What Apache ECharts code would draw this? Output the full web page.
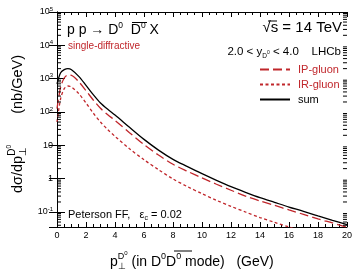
<!DOCTYPE html>
<html>
<head>
<meta charset="utf-8">
<title>pp -> D0 D0bar X single-diffractive</title>
<script src="https://cdn.jsdelivr.net/npm/echarts@6/dist/echarts.min.js"></script>
</head>
<body style="margin: 0">
<div id="main" style="width: 355px; height: 276px"></div>
<script type="text/javascript">
// p_T of the D0 meson (GeV)
var pt = [0, 0.25, 0.5, 0.75, 1, 1.5, 2, 2.5, 3, 3.5, 4, 5, 6, 7, 8, 9, 10, 11, 12, 13, 14, 15, 16, 17, 18, 19, 20];
// dsigma/dpT (nb/GeV)
var ipGluon = [126, 562, 1047, 1290, 1260, 813, 437, 229, 129, 83, 56, 24, 10.5, 5.1, 2.7, 1.66, 1.05, 0.68, 0.45, 0.30, 0.214, 0.158, 0.115, 0.085, 0.062, 0.047, 0.035];
var irGluon = [50, 251, 501, 603, 562, 355, 186, 93, 50, 29.5, 18.6, 7.9, 3.7, 1.86, 0.98, 0.575, 0.355, 0.224, 0.148, 0.100, 0.068, 0.049, 0.0355, 0.026, 0.0195, 0.0145, 0.0107];
var sumAll = [700, 1510, 1860, 2000, 1860, 1175, 630, 331, 186, 120, 81, 34.7, 15.1, 7.2, 3.8, 2.3, 1.41, 0.89, 0.575, 0.39, 0.27, 0.195, 0.141, 0.105, 0.076, 0.056, 0.042];
var seriesNames = ['IP-gluon', 'IR-gluon', 'sum'];

var yMin = 0.0355, yMax = 100000;
var xMin = 0, xMax = 20, xStep = 2;

var FONT = 'Liberation Sans, Arial, Helvetica, sans-serif';
var RED = '#c0262b';

function pairs(arr) {
    var out = [];
    for (var i = 0; i < pt.length; i++) out.push([pt[i], arr[i]]);
    return out;
}

// log minor ticks 2..9 x 10^k
var minorY = [];
for (var e = -2; e <= 4; e++) {
    for (var k = 2; k <= 9; k++) {
        var v = k * Math.pow(10, e);
        if (v > yMin && v < yMax) minorY.push([0, v]);
    }
}

function fmtY(v) {
    var lg = Math.log10(v);
    var e = Math.round(lg);
    if (Math.abs(lg - e) > 1e-6) return '';
    if (e === 0) return '1';
    if (e === 1) return '10';
    return '10{e|' + e + '}';
}

var myChart = echarts.init(document.getElementById('main'), null, {renderer: 'canvas'});

var option = {
    animation: false,
    backgroundColor: '#fff',
    textStyle: {fontFamily: FONT},
    grid: {left: 57, right: 6, top: 12, bottom: 49},
    legend: {
        orient: 'vertical',
        left: 259,
        top: 64,
        padding: 0,
        itemWidth: 30,
        itemHeight: 10,
        itemGap: 4,
        selectedMode: false,
        itemStyle: {opacity: 0},
        textStyle: {fontSize: 11, fontFamily: FONT, color: '#000', padding: [0, 0, 0, 3]},
        data: [
            {name: 'IP-gluon', textStyle: {color: RED}},
            {name: 'IR-gluon', textStyle: {color: RED}},
            {name: 'sum', textStyle: {color: '#000'}}
        ]
    },
    xAxis: [{
        type: 'value',
        min: xMin, max: xMax, interval: xStep,
        axisLine: {lineStyle: {color: '#000', width: 1}},
        axisTick: {inside: true, length: 5, lineStyle: {color: '#000'}},
        minorTick: {show: true, splitNumber: 4, length: 3, lineStyle: {color: '#000'}},
        axisLabel: {fontSize: 9, color: '#000', margin: 4, fontFamily: FONT},
        splitLine: {show: false}
    }, {
        type: 'value', position: 'top',
        min: xMin, max: xMax, interval: xStep,
        axisLine: {lineStyle: {color: '#000', width: 1}},
        axisTick: {inside: true, length: 5, lineStyle: {color: '#000'}},
        minorTick: {show: true, splitNumber: 4, length: 3, lineStyle: {color: '#000'}},
        axisLabel: {show: false},
        splitLine: {show: false}
    }],
    yAxis: [{
        type: 'log',
        min: yMin, max: yMax,
        axisLine: {show: true, lineStyle: {color: '#000', width: 1}},
        axisTick: {inside: true, length: 8, lineStyle: {color: '#000'}},
        axisLabel: {
            fontSize: 9, color: '#000', margin: 4, fontFamily: FONT,
            formatter: fmtY,
            rich: {e: {fontSize: 6, padding: [0, 0, 6, 0], fontFamily: FONT, color: '#000'}}
        },
        splitLine: {show: false}
    }, {
        type: 'log', position: 'right',
        min: yMin, max: yMax,
        axisLine: {show: true, lineStyle: {color: '#000', width: 1}},
        axisTick: {inside: true, length: 8, lineStyle: {color: '#000'}},
        axisLabel: {show: false},
        splitLine: {show: false}
    }],
    series: [{
        name: 'IP-gluon', type: 'line', data: pairs(ipGluon),
        symbol: 'none', smooth: 0.3, clip: true, z: 3,
        itemStyle: {color: RED},
        lineStyle: {color: RED, width: 1.3, type: [9, 4]}
    }, {
        name: 'IR-gluon', type: 'line', data: pairs(irGluon),
        symbol: 'none', smooth: 0.3, clip: true, z: 3,
        itemStyle: {color: RED},
        lineStyle: {color: RED, width: 1.3, type: [3, 2.5]}
    }, {
        name: 'sum', type: 'line', data: pairs(sumAll),
        symbol: 'none', smooth: 0.3, clip: true, z: 4,
        itemStyle: {color: '#000'},
        lineStyle: {color: '#000', width: 1.3}
    }, {
        // minor log ticks on the left and right frame
        type: 'custom', data: minorY, silent: true, clip: false, z: 5,
        renderItem: function (params, api) {
            var l = api.coord([xMin, api.value(1)]);
            var r = api.coord([xMax, api.value(1)]);
            return {
                type: 'group',
                children: [
                    {type: 'line', shape: {x1: l[0], y1: l[1], x2: l[0] + 4, y2: l[1]}, style: {stroke: '#000', lineWidth: 1}},
                    {type: 'line', shape: {x1: r[0] - 4, y1: r[1], x2: r[0], y2: r[1]}, style: {stroke: '#000', lineWidth: 1}}
                ]
            };
        }
    }],
    graphic: [
        {
            type: 'text', x: 67, y: 30,
            style: {
                text: '{b|p p → D}{s|0}{b|  D}{s|0}{b| X}',
                verticalAlign: 'middle', align: 'left',
                rich: {
                    b: {fontSize: 14, fontFamily: FONT, color: '#000'},
                    s: {fontSize: 8.5, padding: [0, 0, 9, 0], fontFamily: FONT, color: '#000'}
                }
            }
        },
        {type: 'line', shape: {x1: 132, y1: 22.5, x2: 147, y2: 22.5}, style: {stroke: '#000', lineWidth: 1}},
        {
            type: 'text', x: 68, y: 46,
            style: {text: 'single-diffractive', font: '10px ' + FONT, fill: RED, verticalAlign: 'middle', align: 'left'}
        },
        {
            type: 'text', x: 342, y: 28,
            style: {text: '√s = 14 TeV', font: '15px ' + FONT, fill: '#000', verticalAlign: 'middle', align: 'right'}
        },
        {type: 'line', shape: {x1: 268, y1: 21, x2: 277, y2: 21}, style: {stroke: '#000', lineWidth: 1}},
        {
            type: 'text', x: 341, y: 52,
            style: {
                text: '{a|2.0 < y}{d|D}{z|0}{a| < 4.0    LHCb}',
                verticalAlign: 'middle', align: 'right',
                rich: {
                    a: {fontSize: 11.5, fontFamily: FONT, color: '#000'},
                    d: {fontSize: 6.5, padding: [8, 0, 0, 0], fontFamily: FONT, color: '#000'},
                    z: {fontSize: 5, padding: [2, 0, 0, 0], fontFamily: FONT, color: '#000'}
                }
            }
        },
        {
            type: 'text', x: 68, y: 215,
            style: {
                text: '{a|Peterson FF,   ε}{c|c}{a| = 0.02}',
                verticalAlign: 'middle', align: 'left',
                rich: {
                    a: {fontSize: 11, fontFamily: FONT, color: '#000'},
                    c: {fontSize: 7, padding: [6, 0, 0, 0], fontFamily: FONT, color: '#000'}
                }
            }
        },
        {
            type: 'text', x: 110, y: 262,
            style: {
                text: '{b|p}{u|⊥}{s|D}{t|0}{b| (in D}{s2|0}{b|D}{s2|0}{b| mode)   (GeV)}',
                verticalAlign: 'middle', align: 'left',
                rich: {
                    b: {fontSize: 14, fontFamily: FONT, color: '#000'},
                    u: {fontSize: 9, width: 0, padding: [10, 0, 0, 0], fontFamily: FONT, color: '#000'},
                    s: {fontSize: 9, padding: [0, 0, 11, 0], fontFamily: FONT, color: '#000'},
                    t: {fontSize: 6, padding: [0, 0, 17, 0], fontFamily: FONT, color: '#000'},
                    s2: {fontSize: 9, padding: [0, 0, 10, 0], fontFamily: FONT, color: '#000'}
                }
            }
        },
        {type: 'line', shape: {x1: 174, y1: 251, x2: 192, y2: 251}, style: {stroke: '#000', lineWidth: 1}},
        {
            type: 'text', x: 18, y: 193, rotation: Math.PI / 2,
            style: {
                text: '{b|dσ/dp}{u|⊥}{s|D}{t|0}',
                verticalAlign: 'middle', align: 'left',
                rich: {
                    b: {fontSize: 14.5, fontFamily: FONT, color: '#000'},
                    u: {fontSize: 10, width: 0, padding: [10, 0, 0, 0], fontFamily: FONT, color: '#000'},
                    s: {fontSize: 10, padding: [0, 0, 11, 0], fontFamily: FONT, color: '#000'},
                    t: {fontSize: 6.5, padding: [0, 0, 18, 0], fontFamily: FONT, color: '#000'}
                }
            }
        },
        {
            type: 'text', x: 18, y: 55, rotation: Math.PI / 2,
            style: {text: '(nb/GeV)', font: '14.5px ' + FONT, fill: '#000', verticalAlign: 'middle', align: 'right'}
        }
    ]
};
myChart.setOption(option, true);
</script>
</body>
</html>
